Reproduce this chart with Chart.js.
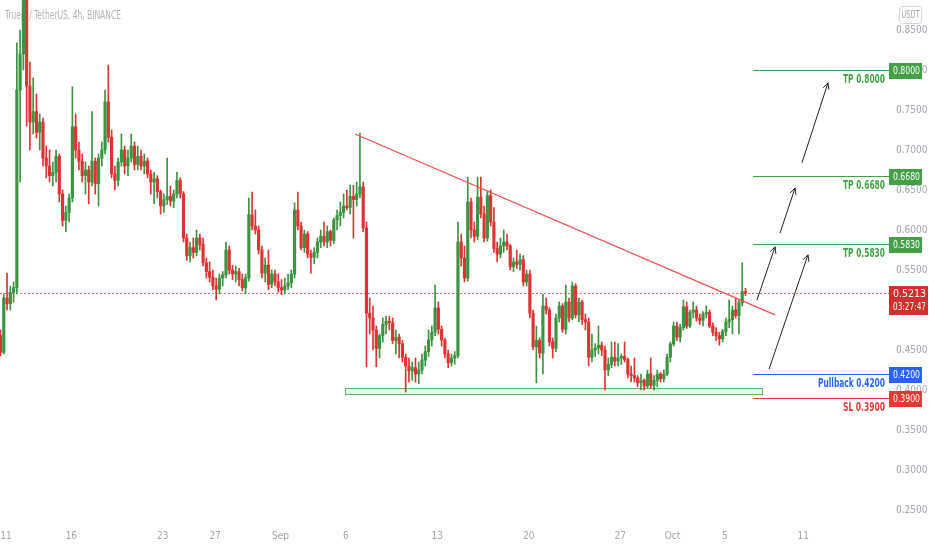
<!DOCTYPE html>
<html>
<head>
<meta charset="utf-8">
<title>TrueFi / TetherUS, 4h, BINANCE</title>
<script src="https://cdn.jsdelivr.net/npm/chart.js@4.4.0/dist/chart.umd.min.js"></script>
<style>
  html, body { margin: 0; padding: 0; background: #fff; }
  #wrap { width: 932px; height: 550px; position: relative; }
</style>
</head>
<body>
<div id="wrap"><canvas id="chart"></canvas></div>
<script>
const FONT = '"Liberation Sans Narrow", "DejaVu Sans Condensed", "Liberation Sans", sans-serif';
const UP = '#3a9440';
const DOWN = '#dd3333';
const AXIS = '#a3a6ae';

// x axis counts days from Aug 0 (Aug 11 = 11, Sep 1 = 32, Oct 1 = 62)
const firstDay = 10.58;
const candleStep = 0.25;

const opens = [
  0.468, 0.447, 0.515, 0.508, 0.522, 0.528, 0.775, 0.82, 0.90, 0.78,
  0.735, 0.748, 0.722, 0.735, 0.69, 0.68, 0.668, 0.672, 0.692, 0.645,
  0.612, 0.622, 0.64, 0.729, 0.70, 0.686, 0.668, 0.675, 0.66, 0.686,
  0.658, 0.69, 0.70, 0.76, 0.716, 0.67, 0.662, 0.685, 0.70, 0.68,
  0.69, 0.705, 0.682, 0.692, 0.68, 0.686, 0.67, 0.66, 0.664, 0.648,
  0.63, 0.638, 0.642, 0.636, 0.645, 0.662, 0.645, 0.59, 0.568, 0.578,
  0.572, 0.59, 0.582, 0.559, 0.548, 0.541, 0.53, 0.526, 0.54, 0.544,
  0.575, 0.55, 0.545, 0.548, 0.538, 0.528, 0.54, 0.619, 0.605, 0.60,
  0.575, 0.546, 0.556, 0.532, 0.545, 0.535, 0.528, 0.525, 0.53, 0.534,
  0.545, 0.625, 0.605, 0.578, 0.595, 0.57, 0.566, 0.572, 0.585, 0.592,
  0.585, 0.598, 0.587, 0.6125, 0.618, 0.622, 0.63, 0.628, 0.642, 0.638,
  0.645, 0.654, 0.6025, 0.496, 0.49, 0.475, 0.452, 0.468, 0.482, 0.486,
  0.484, 0.462, 0.466, 0.458, 0.441, 0.43, 0.424, 0.428, 0.42, 0.425,
  0.4375, 0.448, 0.4625, 0.472, 0.5025, 0.476, 0.4625, 0.445, 0.434, 0.44,
  0.443, 0.585, 0.565, 0.54, 0.635, 0.60, 0.592, 0.641, 0.62, 0.59,
  0.643, 0.61, 0.577, 0.57, 0.58, 0.585, 0.58, 0.554, 0.56, 0.557,
  0.563, 0.535, 0.545, 0.496, 0.454, 0.462, 0.446, 0.505, 0.50, 0.46,
  0.452, 0.49, 0.505, 0.476, 0.51, 0.49, 0.53, 0.494, 0.51, 0.488,
  0.485, 0.441, 0.45, 0.4525, 0.456, 0.45, 0.425, 0.432, 0.441, 0.436,
  0.44, 0.442, 0.438, 0.42, 0.418, 0.415, 0.409, 0.412, 0.405, 0.42,
  0.406, 0.412, 0.42, 0.414, 0.42, 0.441, 0.4575, 0.48, 0.466, 0.478,
  0.504, 0.48, 0.497, 0.50, 0.49, 0.487, 0.495, 0.497, 0.48, 0.472,
  0.468, 0.464, 0.473, 0.485, 0.488, 0.50, 0.493, 0.509, 0.523
];
const highs = [
  0.475, 0.52, 0.546, 0.53, 0.535, 0.834, 0.85, 0.95, 0.93, 0.81,
  0.79, 0.77, 0.745, 0.74, 0.705, 0.70, 0.685, 0.70, 0.695, 0.65,
  0.63, 0.645, 0.779, 0.745, 0.71, 0.695, 0.685, 0.68, 0.748, 0.69,
  0.695, 0.71, 0.775, 0.806, 0.725, 0.68, 0.69, 0.72, 0.705, 0.70,
  0.72, 0.71, 0.705, 0.70, 0.695, 0.69, 0.675, 0.672, 0.668, 0.65,
  0.645, 0.69, 0.655, 0.65, 0.672, 0.665, 0.648, 0.595, 0.585, 0.59,
  0.60, 0.595, 0.59, 0.565, 0.56, 0.55, 0.54, 0.545, 0.548, 0.585,
  0.58, 0.556, 0.555, 0.552, 0.545, 0.545, 0.64, 0.6475, 0.625, 0.605,
  0.58, 0.565, 0.575, 0.55, 0.55, 0.545, 0.538, 0.54, 0.545, 0.55,
  0.634, 0.6475, 0.61, 0.60, 0.598, 0.575, 0.578, 0.59, 0.60, 0.61,
  0.605, 0.60, 0.615, 0.625, 0.635, 0.645, 0.65, 0.656, 0.656, 0.66,
  0.721, 0.66, 0.61, 0.515, 0.505, 0.48, 0.47, 0.49, 0.492, 0.492,
  0.49, 0.475, 0.47, 0.462, 0.445, 0.44, 0.435, 0.44, 0.435, 0.445,
  0.455, 0.475, 0.48, 0.531, 0.51, 0.48, 0.465, 0.45, 0.445, 0.448,
  0.61, 0.595, 0.58, 0.666, 0.64, 0.61, 0.666, 0.666, 0.63, 0.648,
  0.65, 0.628, 0.585, 0.59, 0.60, 0.595, 0.582, 0.565, 0.575, 0.57,
  0.568, 0.55, 0.55, 0.50, 0.48, 0.465, 0.52, 0.515, 0.503, 0.465,
  0.495, 0.51, 0.508, 0.531, 0.515, 0.535, 0.533, 0.515, 0.512, 0.495,
  0.49, 0.47, 0.458, 0.48, 0.46, 0.455, 0.44, 0.46, 0.46, 0.458,
  0.445, 0.46, 0.44, 0.43, 0.44, 0.418, 0.42, 0.414, 0.425, 0.44,
  0.418, 0.425, 0.422, 0.425, 0.445, 0.46, 0.485, 0.485, 0.482, 0.5125,
  0.51, 0.50, 0.51, 0.505, 0.495, 0.498, 0.505, 0.50, 0.484, 0.478,
  0.472, 0.476, 0.49, 0.5125, 0.505, 0.515, 0.512, 0.559, 0.527
];
const lows = [
  0.443, 0.445, 0.50, 0.50, 0.51, 0.52, 0.66, 0.80, 0.73, 0.70,
  0.72, 0.715, 0.70, 0.68, 0.665, 0.66, 0.655, 0.66, 0.635, 0.605,
  0.598, 0.61, 0.635, 0.69, 0.675, 0.66, 0.645, 0.633, 0.655, 0.645,
  0.63, 0.68, 0.695, 0.71, 0.665, 0.65, 0.655, 0.68, 0.67, 0.668,
  0.685, 0.675, 0.675, 0.675, 0.67, 0.665, 0.645, 0.633, 0.64, 0.62,
  0.622, 0.632, 0.63, 0.628, 0.64, 0.64, 0.585, 0.562, 0.56, 0.565,
  0.568, 0.575, 0.555, 0.54, 0.535, 0.525, 0.5125, 0.52, 0.53, 0.54,
  0.545, 0.538, 0.535, 0.53, 0.524, 0.52, 0.536, 0.60, 0.595, 0.57,
  0.54, 0.535, 0.525, 0.528, 0.53, 0.522, 0.519, 0.52, 0.525, 0.528,
  0.54, 0.60, 0.575, 0.572, 0.565, 0.546, 0.558, 0.565, 0.578, 0.58,
  0.578, 0.58, 0.583, 0.60, 0.605, 0.615, 0.625, 0.62, 0.59, 0.63,
  0.64, 0.598, 0.429, 0.47, 0.45, 0.429, 0.44, 0.46, 0.47, 0.475,
  0.458, 0.445, 0.44, 0.435, 0.3975, 0.41, 0.412, 0.41, 0.408, 0.42,
  0.43, 0.442, 0.455, 0.468, 0.47, 0.455, 0.44, 0.428, 0.43, 0.432,
  0.44, 0.555, 0.535, 0.536, 0.59, 0.585, 0.588, 0.615, 0.585, 0.586,
  0.605, 0.572, 0.56, 0.565, 0.572, 0.575, 0.55, 0.548, 0.552, 0.55,
  0.53, 0.53, 0.49, 0.45, 0.409, 0.44, 0.42, 0.495, 0.455, 0.44,
  0.448, 0.485, 0.472, 0.47, 0.485, 0.488, 0.49, 0.485, 0.482, 0.475,
  0.43, 0.435, 0.442, 0.445, 0.443, 0.40, 0.418, 0.428, 0.43, 0.43,
  0.432, 0.435, 0.415, 0.41, 0.41, 0.404, 0.40, 0.40, 0.402, 0.402,
  0.40, 0.404, 0.41, 0.41, 0.418, 0.435, 0.455, 0.462, 0.46, 0.475,
  0.477, 0.478, 0.49, 0.486, 0.482, 0.48, 0.49, 0.478, 0.468, 0.462,
  0.456, 0.46, 0.468, 0.478, 0.47, 0.49, 0.47, 0.505, 0.518
];
const closes = [
  0.447, 0.515, 0.508, 0.522, 0.528, 0.775, 0.82, 0.90, 0.78, 0.735,
  0.748, 0.722, 0.735, 0.69, 0.68, 0.668, 0.672, 0.692, 0.645, 0.612,
  0.622, 0.64, 0.729, 0.70, 0.686, 0.668, 0.675, 0.66, 0.686, 0.658,
  0.69, 0.70, 0.76, 0.716, 0.67, 0.662, 0.685, 0.70, 0.68, 0.69,
  0.705, 0.682, 0.692, 0.68, 0.686, 0.67, 0.66, 0.664, 0.648, 0.63,
  0.638, 0.642, 0.636, 0.645, 0.662, 0.645, 0.59, 0.568, 0.578, 0.572,
  0.59, 0.582, 0.559, 0.548, 0.541, 0.53, 0.526, 0.54, 0.544, 0.575,
  0.55, 0.545, 0.548, 0.538, 0.528, 0.54, 0.619, 0.605, 0.60, 0.575,
  0.546, 0.556, 0.532, 0.545, 0.535, 0.528, 0.525, 0.53, 0.534, 0.545,
  0.625, 0.605, 0.578, 0.595, 0.57, 0.566, 0.572, 0.585, 0.592, 0.585,
  0.598, 0.587, 0.6125, 0.618, 0.622, 0.63, 0.628, 0.642, 0.638, 0.645,
  0.654, 0.6025, 0.496, 0.49, 0.475, 0.452, 0.468, 0.482, 0.486, 0.484,
  0.462, 0.466, 0.458, 0.441, 0.43, 0.424, 0.428, 0.42, 0.425, 0.4375,
  0.448, 0.4625, 0.472, 0.5025, 0.476, 0.4625, 0.445, 0.434, 0.44, 0.443,
  0.585, 0.565, 0.54, 0.635, 0.60, 0.592, 0.641, 0.62, 0.59, 0.643,
  0.61, 0.577, 0.57, 0.58, 0.585, 0.58, 0.554, 0.56, 0.557, 0.563,
  0.535, 0.545, 0.496, 0.454, 0.462, 0.446, 0.505, 0.50, 0.46, 0.452,
  0.49, 0.505, 0.476, 0.51, 0.49, 0.53, 0.494, 0.51, 0.488, 0.485,
  0.441, 0.45, 0.4525, 0.456, 0.45, 0.425, 0.432, 0.441, 0.436, 0.44,
  0.442, 0.438, 0.42, 0.418, 0.415, 0.409, 0.412, 0.405, 0.42, 0.406,
  0.412, 0.42, 0.414, 0.42, 0.441, 0.4575, 0.48, 0.466, 0.478, 0.504,
  0.48, 0.497, 0.50, 0.49, 0.487, 0.495, 0.497, 0.48, 0.472, 0.468,
  0.464, 0.473, 0.485, 0.488, 0.50, 0.493, 0.509, 0.523, 0.5213
];

// axis labels
const dateTicks = [11, 16, 23, 27, 32, 37, 44, 51, 58, 62, 66, 72];
const dateLabels = ['11', '16', '23', '27', 'Sep', '6', '13', '20', '27', 'Oct', '5', '11'];
const priceTicks = [0.25, 0.30, 0.35, 0.40, 0.45, 0.50, 0.55, 0.60, 0.65, 0.70, 0.75, 0.80, 0.85];

// drawn analysis
const lastPrice = 0.5213;
const countdown = '03:27:47';
const trendLine = [{ x: 37.7, y: 0.72 }, { x: 69.84, y: 0.494 }];
const levels = [
  { value: 0.8, text: 'TP 0.8000', color: '#43a047' },
  { value: 0.668, text: 'TP 0.6680', color: '#43a047' },
  { value: 0.583, text: 'TP 0.5830', color: '#43a047' },
  { value: 0.42, text: 'Pullback 0.4200', color: '#2962ff' },
  { value: 0.39, text: 'SL 0.3900', color: '#e53935' }
];
const levelStart = 68.15;
const supportZone = { x0: 36.94, x1: 68.84, y0: 0.395, y1: 0.4025 };
const arrows = [
  [68.46, 0.5125, 69.84, 0.579],
  [70.22, 0.596, 71.37, 0.6525],
  [71.90, 0.684, 73.89, 0.784],
  [69.38, 0.426, 72.36, 0.569]
];

const times = closes.map((_, i) => firstDay + i * candleStep);
const candleColor = (c) => closes[c.dataIndex] >= opens[c.dataIndex] ? UP : DOWN;

function drawTag(ctx, x, y, w, h, bg, lines) {
  ctx.fillStyle = bg;
  ctx.fillRect(x, y, w, h);
  ctx.fillStyle = '#fff';
  ctx.font = '11px ' + FONT;
  ctx.textAlign = 'center';
  ctx.textBaseline = 'middle';
  lines.forEach((t, k) => ctx.fillText(t, x + w / 2 + 1, y + 8 + k * 13, w - 6));
}

const overlay = {
  id: 'overlay',
  beforeDatasetsDraw(chart) {
    const { ctx, chartArea, scales: { x, y } } = chart;
    ctx.save();
    ctx.font = '13px ' + FONT;
    ctx.fillStyle = 'rgba(125,128,138,0.6)';
    ctx.textBaseline = 'middle';
    ctx.fillText('TrueFi / TetherUS, 4h, BINANCE', 5, 16, 116);

    // support zone
    const zx0 = x.getPixelForValue(supportZone.x0), zx1 = x.getPixelForValue(supportZone.x1);
    const zy0 = y.getPixelForValue(supportZone.y1), zy1 = y.getPixelForValue(supportZone.y0);
    ctx.fillStyle = 'rgba(76,175,80,0.12)';
    ctx.fillRect(zx0, zy0, zx1 - zx0, zy1 - zy0);
    ctx.strokeStyle = '#5cb860';
    ctx.lineWidth = 1;
    ctx.strokeRect(zx0 + 0.5, Math.round(zy0) + 0.5, zx1 - zx0, Math.round(zy1 - zy0));

    // last price dotted line
    const py = Math.round(y.getPixelForValue(lastPrice)) + 0.5;
    ctx.strokeStyle = '#ec6a6a';
    ctx.setLineDash([2, 2]);
    ctx.beginPath();
    ctx.moveTo(chartArea.left, py);
    ctx.lineTo(chartArea.right, py);
    ctx.stroke();
    ctx.restore();
  },
  afterDraw(chart) {
    const { ctx, chartArea, scales: { x, y } } = chart;
    ctx.save();
    const lx = x.getPixelForValue(levelStart);
    levels.forEach((lv) => {
      const py = Math.round(y.getPixelForValue(lv.value)) + 0.5;
      ctx.strokeStyle = lv.color;
      ctx.lineWidth = 1;
      ctx.beginPath();
      ctx.moveTo(lx, py);
      ctx.lineTo(chartArea.right, py);
      ctx.stroke();
      ctx.fillStyle = lv.color;
      ctx.font = 'bold 12px ' + FONT;
      ctx.textAlign = 'right';
      ctx.textBaseline = 'middle';
      const w = lv.text.startsWith('Pullback') ? 67 : 42;
      ctx.fillText(lv.text, chartArea.right - 5, py + 9, w);
      drawTag(ctx, chartArea.right - 1, Math.round(py - 8), 33, 16, lv.color, [lv.value.toFixed(4)]);
    });

    // arrows
    ctx.strokeStyle = '#222';
    ctx.lineWidth = 1;
    arrows.forEach(([x1, y1, x2, y2]) => {
      const ax = x.getPixelForValue(x1), ay = y.getPixelForValue(y1);
      const bx = x.getPixelForValue(x2), by = y.getPixelForValue(y2);
      const ang = Math.atan2(by - ay, bx - ax);
      ctx.beginPath();
      ctx.moveTo(ax, ay);
      ctx.lineTo(bx, by);
      ctx.moveTo(bx - 7 * Math.cos(ang - 0.45), by - 7 * Math.sin(ang - 0.45));
      ctx.lineTo(bx, by);
      ctx.lineTo(bx - 7 * Math.cos(ang + 0.45), by - 7 * Math.sin(ang + 0.45));
      ctx.stroke();
    });

    // last price tag with countdown
    const py = Math.round(y.getPixelForValue(lastPrice));
    drawTag(ctx, chartArea.right - 1, py - 7, 39, 29, '#d32f2f', [lastPrice.toFixed(4), countdown]);

    // currency badge
    ctx.strokeStyle = '#d6d6d6';
    ctx.beginPath();
    ctx.roundRect(899.5, 6.5, 22, 17, 3);
    ctx.stroke();
    ctx.fillStyle = AXIS;
    ctx.font = '10px ' + FONT;
    ctx.textAlign = 'center';
    ctx.textBaseline = 'middle';
    ctx.fillText('USDT', 910.5, 15.5, 18);
    ctx.restore();
  }
};

new Chart(document.getElementById('chart'), {
  type: 'bar',
  data: {
    datasets: [
      {
        label: 'wicks',
        data: times.map((t, i) => ({ x: t, y: [lows[i], highs[i]] })),
        backgroundColor: candleColor,
        barThickness: 1,
        grouped: false,
        order: 2
      },
      {
        label: 'bodies',
        data: times.map((t, i) => ({ x: t, y: [opens[i], closes[i]] })),
        backgroundColor: candleColor,
        barThickness: 2.5,
        minBarLength: 1,
        grouped: false,
        order: 1
      },
      {
        type: 'line',
        label: 'trend',
        data: trendLine,
        borderColor: '#ef5350',
        borderWidth: 1.3,
        pointRadius: 0,
        order: 0
      }
    ]
  },
  options: {
    responsive: true,
    maintainAspectRatio: false,
    animation: false,
    layout: { padding: 0 },
    plugins: { legend: { display: false }, tooltip: { enabled: false } },
    scales: {
      x: {
        type: 'linear',
        offset: false,
        min: 10.541,
        max: 78.636,
        grid: { display: false, drawTicks: false, offset: false },
        border: { display: false },
        ticks: {
          autoSkip: false,
          maxRotation: 0,
          padding: 10,
          color: AXIS,
          font: { family: FONT, size: 10 },
          callback: (v) => dateLabels[dateTicks.indexOf(v)] ?? ''
        },
        afterBuildTicks: (s) => { s.ticks = dateTicks.map((v) => ({ value: v })); },
        afterFit: (s) => { s.height = 30; s.paddingLeft = 0; s.paddingRight = 0; }
      },
      y: {
        type: 'linear',
        position: 'right',
        min: 0.2375,
        max: 0.8875,
        grid: { display: false, drawTicks: false },
        border: { display: false },
        ticks: {
          padding: 6,
          color: AXIS,
          font: { family: FONT, size: 10 },
          callback: (v) => v.toFixed(4)
        },
        afterBuildTicks: (s) => { s.ticks = priceTicks.map((v) => ({ value: v })); },
        afterFit: (s) => { s.width = 42; s.paddingTop = 0; s.paddingBottom = 0; }
      }
    }
  },
  plugins: [overlay]
});
</script>
</body>
</html>
